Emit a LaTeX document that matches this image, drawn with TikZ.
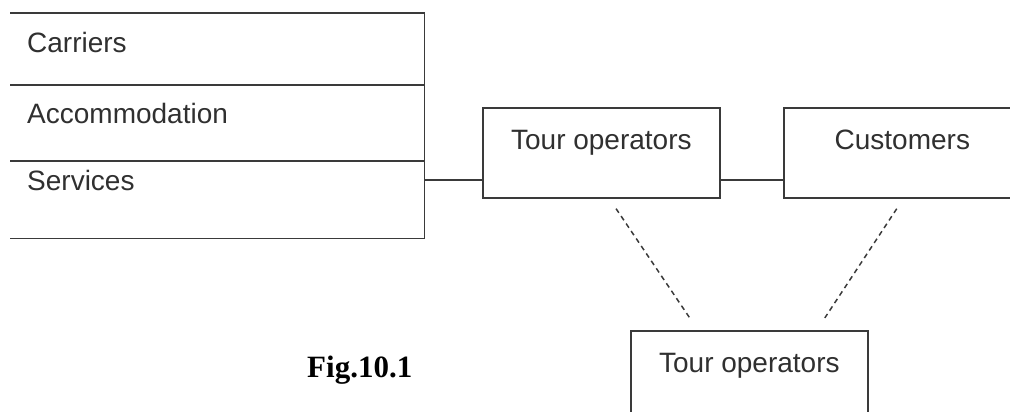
\documentclass[tikz,border=0pt]{standalone}
\usepackage{fontspec}
\setmainfont{Liberation Sans}
\newfontfamily\figfont{Liberation Serif}
\usetikzlibrary{calc}
\definecolor{ink}{HTML}{3A3A3A}
\definecolor{txt}{HTML}{303030}
\tikzset{
  edge/.style={draw=ink, line width=1.7pt},
  boxnode/.style={edge, fill=white, inner xsep=0pt, inner ysep=0pt,
    minimum width=237pt, text height=42pt, text depth=48pt,
    font=\fontsize{28}{30}\selectfont, text=txt, anchor=north west},
  rowlabel/.style={font=\fontsize{28}{30}\selectfont, text=txt, inner sep=0pt, anchor=base west},
  dashlink/.style={draw=ink, line width=1.5pt, dash pattern=on 5pt off 4pt}
}
\begin{document}
\begin{tikzpicture}[x=1pt,y=-1pt]
\useasboundingbox (0,0) rectangle (1010,412);
\clip (0,0) rectangle (1010,412);

% supply side: three stacked rows, open on the left
\node[minimum width=414pt, minimum height=225pt, inner sep=0pt, anchor=north west] (sup) at (10,13) {};
\draw[edge] (sup.north west) -- (sup.north east) -- (sup.south east) -- (sup.south west);
\coordinate (r1) at (0,85);
\coordinate (r2) at (0,161);
\draw[edge] (sup.west |- r1) -- (sup.east |- r1);
\draw[edge] (sup.west |- r2) -- (sup.east |- r2);
\node[rowlabel] (carriers) at (27,53) {Carriers};
\node[rowlabel] (accom) at (27,123) {Accommodation};
\node[rowlabel] (services) at (27,190) {Services};

% distribution chain
\node[boxnode] (tour) at (482,107) {Tour operators};
\node[boxnode] (cust) at (783,107) {Customers};
\node[boxnode] (tourb) at (630,330) {Tour operators};

\coordinate (lk) at (0,180);
\draw[edge] (sup.east |- lk) -- (tour.west |- lk);
\draw[edge] (tour.east |- lk) -- (cust.west |- lk);

\draw[dashlink, shorten <=12pt, shorten >=14.5pt]
  ($(tour.south)+(8,0)$) -- ($(tourb.north)+(-51.5,0)$);
\draw[dashlink, shorten <=12pt, shorten >=14.5pt]
  ($(cust.south)+(1,0)$) -- ($(tourb.north)+(67.5,0)$);

\node[font=\figfont\bfseries\fontsize{31}{33}\selectfont, inner sep=0pt, anchor=base west] (fig) at (307,377) {Fig.10.1};
\end{tikzpicture}
\end{document}
